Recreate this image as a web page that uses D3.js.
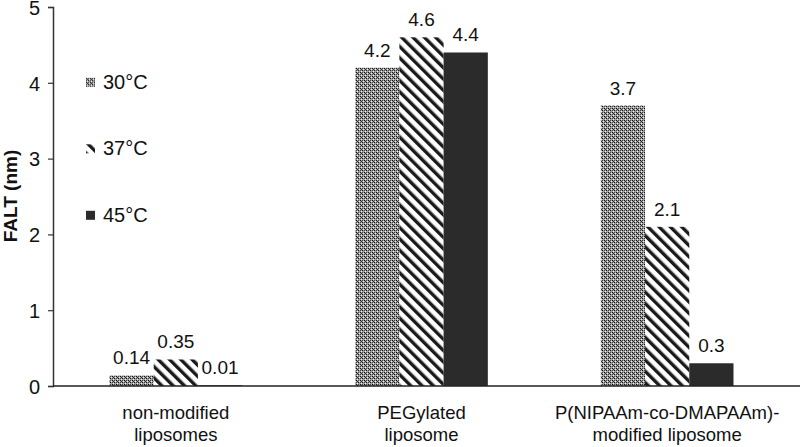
<!DOCTYPE html>
<html>
<head>
<meta charset="utf-8">
<script src="https://cdn.jsdelivr.net/npm/d3@7"></script>
<style>
body { margin: 0; background: white; }
text { font-family: "Liberation Sans", Arial, sans-serif; fill: #111; }
</style>
</head>
<body>
<div id="chart"></div>
<script>
var svgWidth = 800;
var svgHeight = 447;

var categories = [["non-modified", "liposomes"], ["PEGylated", "liposome"], ["P(NIPAAm-co-DMAPAAm)-", "modified liposome"]];
var seriesNames = ["30°C", "37°C", "45°C"];
var values30 = [0.14, 4.2, 3.7];
var values37 = [0.35, 4.6, 2.1];
var values45 = [0.01, 4.4, 0.3];
var valueLabels = [["0.14", "4.2", "3.7"], ["0.35", "4.6", "2.1"], ["0.01", "4.4", "0.3"]];
var yTicks = [0, 1, 2, 3, 4, 5];

var series = [values30, values37, values45];

var svg = d3.select("#chart")
	.append("svg")
	.attr("width", svgWidth)
	.attr("height", svgHeight)
	.style("background-color", "white");

var defs = svg.append("defs");

// fine dotted grey pattern for 30C
var dots = defs.append("pattern")
	.attr("id", "pat30")
	.attr("patternUnits", "userSpaceOnUse")
	.attr("width", 4)
	.attr("height", 4);
dots.append("rect").attr("width", 4).attr("height", 4).attr("fill", "#a0a0a0");
dots.append("rect").attr("x", 0).attr("y", 0).attr("width", 1).attr("height", 1).attr("fill", "#111");
dots.append("rect").attr("x", 2).attr("y", 2).attr("width", 1).attr("height", 1).attr("fill", "#111");
dots.append("rect").attr("x", 2).attr("y", 0).attr("width", 1).attr("height", 1).attr("fill", "#444");
dots.append("rect").attr("x", 0).attr("y", 2).attr("width", 1).attr("height", 1).attr("fill", "#444");
dots.append("rect").attr("x", 1).attr("y", 1).attr("width", 1).attr("height", 1).attr("fill", "#333");
dots.append("rect").attr("x", 1).attr("y", 3).attr("width", 1).attr("height", 1).attr("fill", "#eee");
dots.append("rect").attr("x", 3).attr("y", 1).attr("width", 1).attr("height", 1).attr("fill", "#eee");

// diagonal stripes for 37C
var stripes = defs.append("pattern")
	.attr("id", "pat37")
	.attr("patternUnits", "userSpaceOnUse")
	.attr("width", 8)
	.attr("height", 8)
	.attr("patternTransform", "rotate(-45)");
stripes.append("rect").attr("width", 8).attr("height", 8).attr("fill", "white");
stripes.append("rect").attr("x", 0).attr("y", 0).attr("width", 3.4).attr("height", 8).attr("fill", "#1a1a1a");

var fills = ["url(#pat30)", "url(#pat37)", "#2b2b2b"];

var margin = {left: 53, right: 10, top: 7, bottom: 61};

var x0 = d3.scaleBand()
	.domain(d3.range(categories.length))
	.range([margin.left, svgWidth - margin.right])
	.paddingInner(0.46)
	.paddingOuter(0.23);

var x1 = d3.scaleBand()
	.domain(d3.range(series.length))
	.range([0, x0.bandwidth()]);

var y = d3.scaleLinear()
	.domain([0, 5])
	.range([svgHeight - margin.bottom, margin.top]);

// y axis
var yAxis = svg.append("g")
	.attr("transform", "translate(" + margin.left + ",0)")
	.call(d3.axisLeft(y).tickValues(yTicks).tickSize(5).tickFormat(d3.format("d")));
yAxis.select(".domain").attr("stroke", "#333").attr("stroke-width", 1.5);
yAxis.selectAll(".tick line").attr("stroke", "#333").attr("stroke-width", 1.2);
yAxis.selectAll(".tick text")
	.attr("x", -13)
	.attr("dy", "0.36em")
	.style("font-size", "20px")
	.style("font-family", "Liberation Sans, Arial, sans-serif")
	.attr("fill", "#111");

// bars
var groups = svg.append("g").attr("id", "bars")
	.selectAll("g")
	.data(series)
	.enter()
	.append("g")
	.attr("fill", function(d, i){return fills[i];});

groups.selectAll("rect")
	.data(function(d, i){return d.map(function(v, c){return {s: i, c: c, v: v};});})
	.enter()
	.append("rect")
	.attr("x", function(d){return x0(d.c) + x1(d.s);})
	.attr("y", function(d){return y(d.v);})
	.attr("width", x1.bandwidth())
	.attr("height", function(d){return y(0) - y(d.v);});

// value labels
svg.append("g").attr("id", "labels")
	.selectAll("text")
	.data(d3.merge(series.map(function(d, i){return d.map(function(v, c){return {s: i, c: c, v: v};});})))
	.enter()
	.append("text")
	.attr("x", function(d){return x0(d.c) + x1(d.s) + x1.bandwidth()/2;})
	.attr("y", function(d){return y(d.v) - 11;})
	.attr("text-anchor", "middle")
	.style("font-size", "19px")
	.text(function(d){return valueLabels[d.s][d.c];});

// x baseline
svg.append("line")
	.attr("x1", margin.left)
	.attr("x2", svgWidth)
	.attr("y1", y(0))
	.attr("y2", y(0))
	.attr("stroke", "#222")
	.attr("stroke-width", 1.5);

// category labels
var catText = svg.append("g").attr("id", "categories")
	.selectAll("text")
	.data(categories)
	.enter()
	.append("text")
	.attr("text-anchor", "middle")
	.style("font-size", "18.5px")
	.attr("x", function(d, i){return x0(i) + x0.bandwidth()/2;})
	.attr("y", y(0) + 33);
catText.selectAll("tspan")
	.data(function(d){return d;})
	.enter()
	.append("tspan")
	.attr("x", function(){return d3.select(this.parentNode).attr("x");})
	.attr("dy", function(d, i){return i === 0 ? 0 : 22;})
	.text(function(d){return d;});

// legend
var legend = svg.append("g").attr("id", "legend")
	.selectAll("g")
	.data(seriesNames)
	.enter()
	.append("g")
	.attr("transform", function(d, i){return "translate(86," + (y(4) - 5 + i * 66.5) + ")";});
legend.append("rect")
	.attr("width", 9)
	.attr("height", 9)
	.attr("fill", function(d, i){return fills[i];});
legend.append("text")
	.attr("x", 17)
	.attr("y", 11)
	.style("font-size", "20px")
	.text(function(d){return d;});

// y axis title
svg.append("text")
	.attr("transform", "translate(17," + 196 + ") rotate(-90)")
	.attr("text-anchor", "middle")
	.style("font-size", "19px")
	.style("font-weight", "bold")
	.text("FALT (nm)");
</script>
</body>
</html>
